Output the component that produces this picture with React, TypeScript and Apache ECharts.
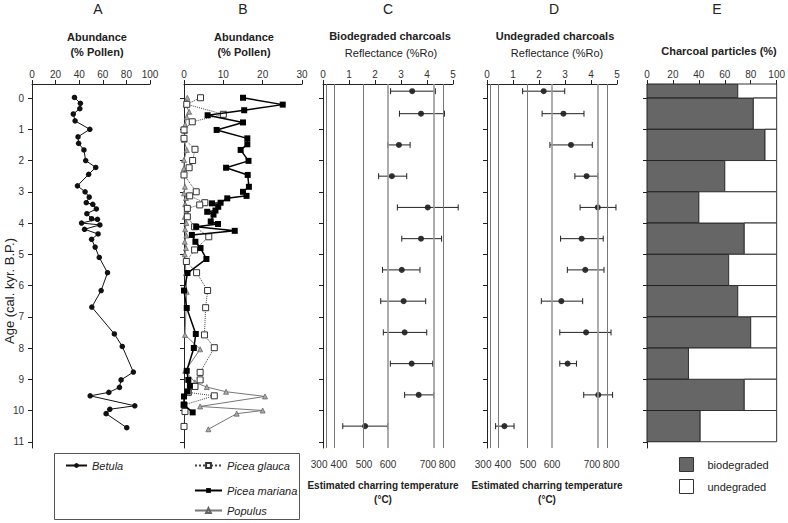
import React, { useEffect, useRef } from 'react';
import * as echarts from 'echarts';

// ---------------- DATA ----------------
const ageTicks = [0, 1, 2, 3, 4, 5, 6, 7, 8, 9, 10, 11];
const pollenBTicks = [0, 10, 20, 30];

// Panel A : Betula
const betulaAge = [-0.02, 0.17, 0.34, 0.51, 0.73, 1.0, 1.24, 1.45, 1.66, 2.0, 2.22, 2.44, 2.81, 3.0, 3.17, 3.35, 3.4, 3.55, 3.7, 3.86, 3.88, 4.0, 4.06, 4.2, 4.35, 4.52, 4.77, 5.1, 5.59, 6.16, 6.69, 7.55, 7.95, 8.77, 9.02, 9.26, 9.42, 9.53, 9.85, 9.96, 10.1, 10.55];
const betulaPct = [36, 41, 40.5, 35, 36.5, 49, 39, 39.5, 44, 45.5, 54, 48, 38.5, 45, 48.5, 46, 51.5, 54.5, 46.5, 50.5, 55.5, 42, 57.5, 44.5, 56, 50.5, 53.5, 57, 64, 58.6, 50.7, 69.8, 76.5, 85.9, 75.5, 74.1, 65.1, 49.3, 87.1, 65.9, 62.8, 80.3];

// Panel B : Picea mariana
const marianaAge = [-0.01, 0.21, 0.39, 0.55, 0.78, 1.02, 1.29, 1.48, 1.66, 2.01, 2.23, 2.46, 2.84, 3.0, 3.13, 3.21, 3.35, 3.37, 3.48, 3.6, 3.64, 3.73, 3.95, 4.03, 4.12, 4.25, 4.38, 4.6, 4.8, 5.15, 5.6, 6.16, 6.72, 7.55, 8.0, 8.73, 9.02, 9.21, 9.39, 9.55, 9.82, 10.06];
const marianaPct = [15.0, 25.1, 15.3, 6.0, 15.0, 8.3, 16.1, 16.1, 14.4, 16.4, 10.7, 16.2, 16.5, 15.0, 15.9, 11.0, 9.3, 7.1, 8.7, 8.0, 5.9, 7.5, 6.8, 8.65, 3.1, 12.9, 2.0, 2.9, 4.2, 5.7, 0.9, 0, 0.7, 3.0, 2.5, 0.7, 1.1, 1.5, 0.9, 0, 0, 2.2];

// Panel B : Picea glauca
const glaucaAge = [-0.01, 0.2, 0.52, 0.76, 1.02, 1.29, 1.64, 2.0, 2.23, 2.46, 3.0, 3.13, 3.35, 3.42, 3.53, 3.8, 4.12, 4.44, 4.86, 5.23, 5.59, 6.16, 6.71, 7.58, 7.99, 8.78, 9.02, 9.23, 9.42, 9.53, 9.82, 10.03, 10.51];
const glaucaPct = [4.2, 0.7, 10.0, 2.1, 0, 0, 2.8, 2.2, 1.3, 0, 3.1, 1.45, 5.3, 4.0, 0.85, 0.85, 2.7, 6.3, 2.7, 0.6, 3.2, 6.0, 5.5, 5.2, 7.7, 4.1, 4.1, 2.8, 1.1, 7.7, 0, 0.25, 0];

// Panel B : Populus
const populusAge = [-0.01, 0.21, 0.44, 0.61, 0.85, 1.05, 1.34, 1.66, 1.98, 2.25, 2.46, 2.84, 3.05, 3.2, 3.4, 3.6, 3.8, 4.0, 4.2, 4.4, 4.6, 4.8, 5.0, 5.6, 6.2, 7.58, 8.04, 8.73, 9.1, 9.25, 9.4, 9.55, 9.87, 10.0, 10.1, 10.6];
const populusPct = [0.85, 0.4, 1.3, 0.7, 0.3, 0.3, 0, 0.7, 0, 0, 0, 0.25, 0, 0.5, 0.3, 0.6, 0.2, 0.6, 0.3, 0.6, 0.2, 0.5, 0.2, 0.5, 0.7, 0.25, 4.1, 0.3, 2.8, 5.8, 10.7, 20.6, 4.1, 20.0, 13.4, 6.2];

// Panels C, D : charcoal reflectance
const sampleAge = [-0.22, 0.5, 1.5, 2.5, 3.5, 4.5, 5.5, 6.5, 7.5, 8.5, 9.5, 10.5];
const bioMean = [3.43, 3.77, 2.92, 2.65, 4.03, 3.77, 3.03, 3.1, 3.14, 3.41, 3.68, 1.62];
const bioLow = [2.6, 2.94, 2.49, 2.14, 2.86, 3.03, 2.29, 2.22, 2.32, 2.59, 3.14, 0.76];
const bioHigh = [4.32, 4.67, 3.35, 3.22, 5.2, 4.56, 3.73, 3.95, 3.99, 4.22, 4.26, 2.49];
const undMean = [2.18, 2.94, 3.23, 3.83, 4.26, 3.64, 3.78, 2.86, 3.81, 3.1, 4.28, 0.67];
const undLow = [1.37, 2.12, 2.42, 3.38, 3.58, 2.83, 3.09, 2.09, 2.8, 2.8, 3.72, 0.33];
const undHigh = [2.99, 3.73, 4.05, 4.26, 4.96, 4.47, 4.5, 3.68, 4.77, 3.44, 4.83, 1.04];

// Temperature equivalents of reflectance
const tempC = [300, 400, 500, 600, 700, 800];
const tempRo = [0.12, 0.42, 1.54, 2.5, 4.27, 4.62];

// Panel E : charcoal particles
const binTop = [-0.45, 0, 1, 2, 3, 4, 5, 6, 7, 8, 9, 10];
const binBottom = [0, 1, 2, 3, 4, 5, 6, 7, 8, 9, 10, 11];
const biodegradedPct = [70, 82, 91, 60, 40, 75, 63, 70, 80, 32, 75, 41];

// ---------------- LAYOUT / STYLE ----------------
const FONT = '"Liberation Sans", Arial, Helvetica, sans-serif';
const TOP = 84;
const HEIGHT = 364;
const AGE_MIN = -0.45;
const AGE_MAX = 11.2;
const gridLefts = [32, 184, 323, 487, 647];
const gridWidths = [118, 118, 130, 130, 130];
const tempLineColor = ['#777', '#777', '#777', '#999', '#999', '#777'];
const tempLineWidth = [1, 1, 1, 1.6, 1.6, 1];
const tempLabelShift = [-7, 5, 1, 0, -6, 4];
const tempLabelDy = 16;

function topXAxis(gridIndex: number, min: number, max: number, interval: number, custom?: number[]) {
  return {
    type: 'value', gridIndex, position: 'top', min, max, interval,
    axisLine: { show: true, onZero: false, lineStyle: { color: '#222', width: 1 } },
    axisTick: { show: true, length: 4, lineStyle: { color: '#222' }, ...(custom ? { customValues: custom } : {}) },
    axisLabel: { fontSize: 10, color: '#333', margin: 5, fontFamily: FONT, hideOverlap: false, ...(custom ? { customValues: custom } : {}) },
    splitLine: { show: false },
  };
}

function ageYAxis(gridIndex: number, showLabels: boolean) {
  return {
    type: 'value', gridIndex, inverse: true, min: AGE_MIN, max: AGE_MAX,
    axisLine: { show: true, onZero: false, lineStyle: { color: '#222', width: 1 } },
    axisTick: { show: true, length: 4, customValues: ageTicks, lineStyle: { color: '#222' } },
    axisLabel: { show: showLabels, customValues: ageTicks, fontSize: 10, color: '#333', margin: 8, fontFamily: FONT },
    splitLine: { show: false },
  };
}

function tempAxis(gridIndex: number) {
  return {
    type: 'value', gridIndex, position: 'bottom', min: 0, max: 5,
    axisLine: { show: false }, axisTick: { show: false }, splitLine: { show: false },
    axisLabel: { show: false },
    name: 'Estimated charring temperature\n(°C)',
    nameLocation: 'middle', nameGap: 30,
    nameTextStyle: { fontWeight: 'bold', fontSize: 10, lineHeight: 14, color: '#222', fontFamily: FONT, padding: [0, 10, 0, 0] },
  };
}

function errorRender(params: any, api: any) {
  const lo = api.coord([api.value(0), api.value(2)]);
  const hi = api.coord([api.value(1), api.value(2)]);
  const c = 3;
  const st = { stroke: '#222', lineWidth: 1 };
  return {
    type: 'group',
    children: [
      { type: 'line', shape: { x1: lo[0], y1: lo[1], x2: hi[0], y2: hi[1] }, style: st },
      { type: 'line', shape: { x1: lo[0], y1: lo[1] - c, x2: lo[0], y2: lo[1] + c }, style: st },
      { type: 'line', shape: { x1: hi[0], y1: hi[1] - c, x2: hi[0], y2: hi[1] + c }, style: st },
    ],
  };
}

function reflectanceSeries(prefix: string, gi: number, mean: number[], low: number[], high: number[]) {
  return [
    {
      name: prefix + ' points', type: 'scatter', xAxisIndex: gi, yAxisIndex: gi, z: 2,
      symbol: 'circle', symbolSize: 6, itemStyle: { color: '#000' },
      data: sampleAge.map((a, i) => [mean[i], a]),
      markLine: {
        silent: true, symbol: ['none', 'none'], label: { show: false },
        lineStyle: { type: 'solid' },
        data: tempRo.map((r, i) => ({ xAxis: r, lineStyle: { color: tempLineColor[i], width: tempLineWidth[i], type: 'solid' } })),
      },
    },
    {
      name: prefix + ' errors', type: 'custom', xAxisIndex: gi, yAxisIndex: gi, z: 3,
      renderItem: errorRender, encode: { x: [0, 1], y: 2 },
      data: sampleAge.map((a, i) => [low[i], high[i], a]),
    },
  ];
}

const textStyleBase = { fontFamily: FONT, fill: '#222' };
function gText(text: string, x: number, y: number, size: number, weight: string, extra: any = {}) {
  return {
    type: 'text', x, y, silent: true,
    style: { ...textStyleBase, text, fontSize: size, fontWeight: weight, align: 'center', verticalAlign: 'middle', ...extra },
  };
}

function legendFor(name: string, left: number, top: number, itemWidth: number) {
  return {
    data: [name], left, top, orient: 'horizontal', padding: 0,
    itemWidth, itemHeight: 6, itemGap: 5, selectedMode: false,
    textStyle: { fontSize: 11, fontStyle: 'italic', color: '#222', fontFamily: FONT },
  };
}

function baseGraphic(): any[] {
  return [
    gText('A', 98, 9, 14, 'normal'),
    gText('B', 243, 9, 14, 'normal'),
    gText('C', 388, 9, 14, 'normal'),
    gText('D', 554, 9, 14, 'normal'),
    gText('E', 717, 9, 14, 'normal'),
    gText('Abundance', 97, 37, 11, 'bold'),
    gText('(% Pollen)', 97, 52, 11, 'bold'),
    gText('Abundance', 244, 37, 11, 'bold'),
    gText('(% Pollen)', 244, 52, 11, 'bold'),
    gText('Biodegraded charcoals', 390, 36, 11, 'bold'),
    gText('Reflectance (%Ro)', 391, 53, 11, 'normal'),
    gText('Undegraded charcoals', 555, 36, 11, 'bold'),
    gText('Reflectance (%Ro)', 557, 53, 11, 'normal'),
    gText('Charcoal particles (%)', 719, 51, 11, 'bold'),
    { ...gText('Age (cal. kyr. B.P.)', 9, 291, 13, 'normal'), rotation: Math.PI / 2 },
    {
      type: 'rect', silent: true, z: -1,
      shape: { x: 54.5, y: 453.5, width: 245, height: 66 },
      style: { fill: 'none', stroke: '#555', lineWidth: 1 },
    },
  ];
}

function buildOption() {
  const grids = gridLefts.map((l, i) => ({ left: l, width: gridWidths[i], top: TOP, height: HEIGHT, containLabel: false }));
  return {
    animation: false,
    backgroundColor: '#fff',
    textStyle: { fontFamily: FONT },
    grid: grids,
    xAxis: [
      topXAxis(0, 0, 100, 20),
      topXAxis(1, 0, 30, 10, pollenBTicks),
      topXAxis(2, 0, 5, 1),
      topXAxis(3, 0, 5, 1),
      topXAxis(4, 0, 100, 20),
      tempAxis(2),
      tempAxis(3),
    ],
    yAxis: [ageYAxis(0, true), ageYAxis(1, false), ageYAxis(2, false), ageYAxis(3, false), ageYAxis(4, false)],
    legend: [
      legendFor('Betula', 65, 460, 21),
      legendFor('Picea glauca', 194, 460, 27),
      legendFor('Picea mariana', 194, 485, 27),
      legendFor('Populus', 194, 505, 27),
      {
        data: [
          { name: 'biodegraded', icon: 'rect', itemStyle: { color: '#666', borderColor: '#333', borderWidth: 1 } },
          { name: 'undegraded', icon: 'rect', itemStyle: { color: '#fff', borderColor: '#333', borderWidth: 1 } },
        ],
        left: 679, top: 457, orient: 'vertical', padding: 0, itemWidth: 14, itemHeight: 14, itemGap: 7,
        selectedMode: false,
        textStyle: { fontSize: 11, color: '#222', fontFamily: FONT, padding: [0, 0, 0, 9] },
      },
    ],
    series: [
      {
        name: 'Betula', type: 'line', xAxisIndex: 0, yAxisIndex: 0, clip: false, z: 3,
        symbol: 'circle', symbolSize: 5.5, itemStyle: { color: '#111' }, lineStyle: { color: '#111', width: 1 },
        data: betulaAge.map((a, i) => [betulaPct[i], a]),
      },
      {
        name: 'Populus', type: 'line', xAxisIndex: 1, yAxisIndex: 1, clip: false, z: 2,
        symbol: 'triangle', symbolSize: 5, itemStyle: { color: '#aaa', borderColor: '#666', borderWidth: 0.8 },
        lineStyle: { color: '#777', width: 1 },
        data: populusAge.map((a, i) => [populusPct[i], a]),
      },
      {
        name: 'Picea glauca', type: 'line', xAxisIndex: 1, yAxisIndex: 1, clip: false, z: 3,
        symbol: 'rect', symbolSize: 6, itemStyle: { color: '#fff', borderColor: '#333', borderWidth: 1 },
        lineStyle: { color: '#444', width: 1, type: 'dotted' },
        data: glaucaAge.map((a, i) => [glaucaPct[i], a]),
      },
      {
        name: 'Picea mariana', type: 'line', xAxisIndex: 1, yAxisIndex: 1, clip: false, z: 4,
        symbol: 'rect', symbolSize: 6, itemStyle: { color: '#000' }, lineStyle: { color: '#000', width: 1.5 },
        data: marianaAge.map((a, i) => [marianaPct[i], a]),
      },
      ...reflectanceSeries('bio', 2, bioMean, bioLow, bioHigh),
      ...reflectanceSeries('und', 3, undMean, undLow, undHigh),
      {
        name: 'biodegraded', type: 'custom', xAxisIndex: 4, yAxisIndex: 4, z: 2,
        itemStyle: { color: '#666', borderColor: '#333', borderWidth: 1 },
        encode: { x: 2, y: [0, 1] },
        data: binTop.map((t, i) => [t, binBottom[i], biodegradedPct[i]]),
        renderItem: (params: any, api: any) => {
          const p0 = api.coord([0, api.value(0)]);
          const p1 = api.coord([api.value(2), api.value(1)]);
          return {
            type: 'rect',
            shape: { x: p0[0], y: p0[1], width: p1[0] - p0[0], height: p1[1] - p0[1] },
            style: { fill: '#666', stroke: '#222', lineWidth: 1 },
          };
        },
      },
      {
        name: 'undegraded', type: 'custom', xAxisIndex: 4, yAxisIndex: 4, z: 2,
        itemStyle: { color: '#fff', borderColor: '#333', borderWidth: 1 },
        encode: { x: 2, y: [0, 1] },
        data: binTop.map((t, i) => [t, binBottom[i], biodegradedPct[i]]),
        renderItem: (params: any, api: any) => {
          const p0 = api.coord([api.value(2), api.value(0)]);
          const p1 = api.coord([100, api.value(1)]);
          return {
            type: 'rect',
            shape: { x: p0[0], y: p0[1], width: p1[0] - p0[0], height: p1[1] - p0[1] },
            style: { fill: '#fff', stroke: '#333', lineWidth: 1 },
          };
        },
      },
    ],
    graphic: baseGraphic(),
  };
}

export default function App() {
  const ref = useRef<HTMLDivElement>(null);
  useEffect(() => {
    if (!ref.current) return;
    const chart = echarts.init(ref.current, null, { renderer: 'svg' });
    chart.setOption(buildOption() as any);
    // temperature tick labels placed through the reflectance scale of grids C and D
    const labels: any[] = [];
    [2, 3].forEach((gi) => {
      tempRo.forEach((r, i) => {
        const p = chart.convertToPixel({ gridIndex: gi } as any, [r, AGE_MAX]) as number[];
        if (p) {
          labels.push(gText(String(tempC[i]), p[0] + tempLabelShift[i], p[1] + tempLabelDy, 10, 'normal', { fill: '#333' }));
        }
      });
    });
    chart.setOption({ graphic: [...baseGraphic(), ...labels] } as any);
    return () => chart.dispose();
  }, []);
  return (
    <div
      ref={ref}
      style={{ position: 'fixed', left: 0, top: 0, width: 788, height: 523, background: '#fff' }}
    />
  );
}
